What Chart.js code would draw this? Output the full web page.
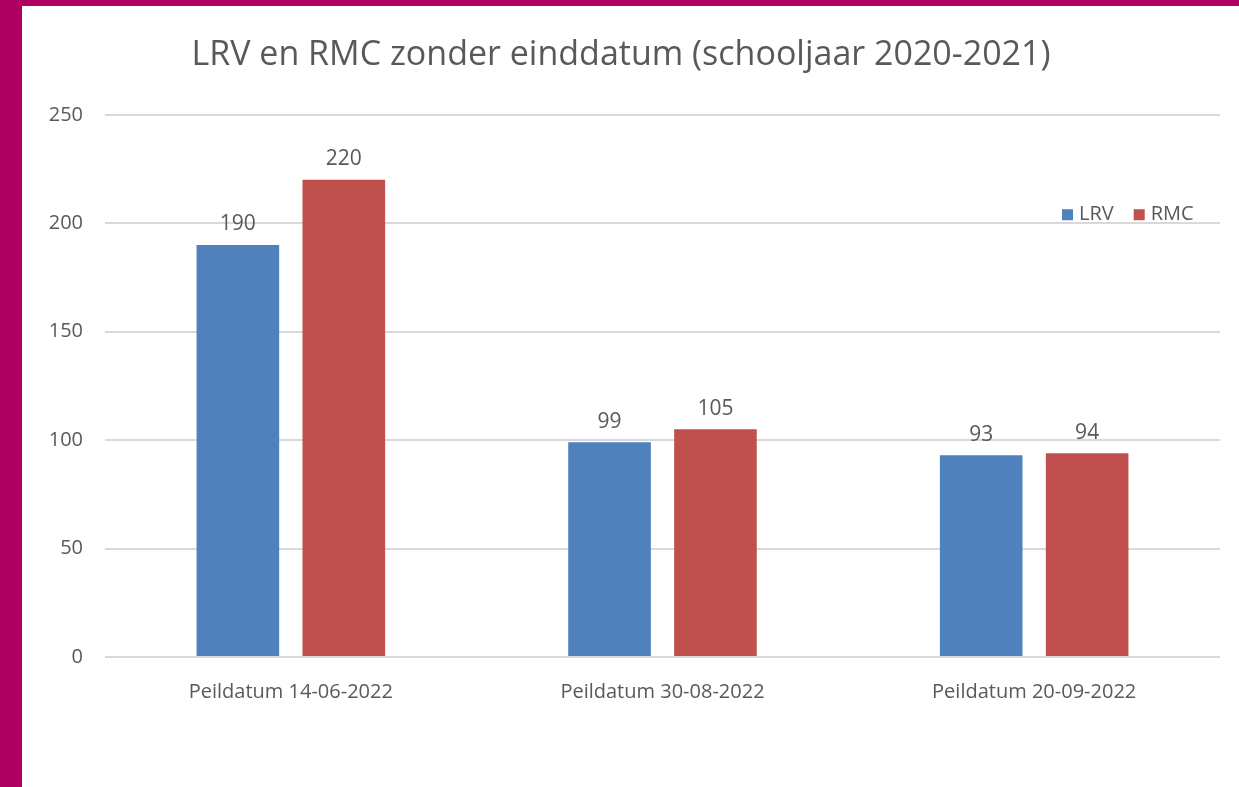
<!DOCTYPE html>
<html>
<head>
<meta charset="utf-8">
<script src="https://cdn.jsdelivr.net/npm/chart.js@4.4.1/dist/chart.umd.min.js"></script>
<style>
  html, body { margin: 0; padding: 0; }
  body { width: 1239px; height: 787px; background: #ad0060; overflow: hidden; position: relative; }
  #wrap { position: absolute; left: 22px; top: 6px; width: 1217px; height: 781px; background: #fff; }
</style>
</head>
<body>
<div id="wrap"><canvas id="chart"></canvas></div>
<script>
// data
const categorieen = ['Peildatum 14-06-2022', 'Peildatum 30-08-2022', 'Peildatum 20-09-2022'];
const lrv = [190, 99, 93];
const rmc = [220, 105, 94];
const yTicks = [0, 50, 100, 150, 200, 250];

const grijs = '#595959';
const fontNaam = '"Open Sans", "Noto Sans", sans-serif';

// waarden boven de staven
const waardenPlugin = {
  id: 'waarden',
  afterDatasetsDraw(chart) {
    const ctx = chart.ctx;
    ctx.save();
    ctx.font = '21px ' + fontNaam;
    ctx.fillStyle = grijs;
    ctx.textAlign = 'center';
    ctx.textBaseline = 'bottom';
    chart.data.datasets.forEach((ds, i) => {
      chart.getDatasetMeta(i).data.forEach((bar, j) => {
        ctx.fillText(ds.data[j], bar.x, bar.y - 10);
      });
    });
    ctx.restore();
  }
};

// legenda rechtsboven in het plotgebied
const legendaPlugin = {
  id: 'legenda',
  afterDraw(chart) {
    const ctx = chart.ctx;
    const y = chart.scales.y.getPixelForValue(200) - 9;
    let x = chart.chartArea.right - 158;
    ctx.save();
    ctx.font = '20px ' + fontNaam;
    ctx.textBaseline = 'middle';
    chart.data.datasets.forEach(ds => {
      ctx.fillStyle = ds.backgroundColor;
      ctx.fillRect(x, y - 5, 11, 11);
      ctx.fillStyle = grijs;
      ctx.fillText(ds.label, x + 17, y);
      x += 17 + ctx.measureText(ds.label).width + 20;
    });
    ctx.restore();
  }
};

new Chart(document.getElementById('chart'), {
  type: 'bar',
  data: {
    labels: categorieen,
    datasets: [
      { label: 'LRV', data: lrv, backgroundColor: '#4f81bd' },
      { label: 'RMC', data: rmc, backgroundColor: '#c0504d' }
    ]
  },
  options: {
    responsive: true,
    maintainAspectRatio: false,
    animation: false,
    categoryPercentage: 0.57,
    barPercentage: 0.78,
    layout: { padding: { left: 0, right: 19, top: 0, bottom: 68 } },
    scales: {
      x: {
        grid: { display: false },
        border: { display: false },
        ticks: { color: grijs, font: { family: fontNaam, size: 20 }, padding: 15, maxRotation: 0 }
      },
      y: {
        min: 0,
        max: 250,
        afterFit(scale) { scale.width = 83; },
        afterBuildTicks(scale) { scale.ticks = yTicks.map(v => ({ value: v })); },
        grid: { color: '#d9d9d9', lineWidth: 2, drawTicks: false },
        border: { display: false },
        ticks: { color: grijs, font: { family: fontNaam, size: 20 }, padding: 22 }
      }
    },
    plugins: {
      legend: { display: false },
      tooltip: { enabled: false },
      title: {
        display: true,
        text: 'LRV en RMC zonder einddatum (schooljaar 2020-2021)',
        color: grijs,
        font: { family: fontNaam, size: 34, weight: 'normal' },
        padding: { top: 29, bottom: 39 }
      }
    }
  },
  plugins: [waardenPlugin, legendaPlugin]
});
</script>
</body>
</html>
